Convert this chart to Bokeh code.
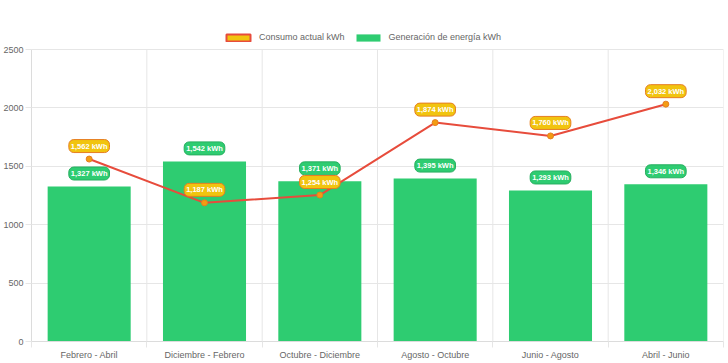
from bokeh.plotting import figure
from bokeh.models import ColumnDataSource, Legend, LegendItem, FixedTicker, Range1d
from bokeh.core.properties import value
from bokeh.embed import file_html
from bokeh.resources import INLINE

periods = ["Febrero - Abril", "Diciembre - Febrero", "Octubre - Diciembre",
           "Agosto - Octubre", "Junio - Agosto", "Abril - Junio"]
consumo = [1562, 1187, 1254, 1874, 1760, 2032]
generacion = [1327, 1542, 1371, 1395, 1293, 1346]
y_ticks = [0, 500, 1000, 1500, 2000, 2500]

FONT = "Liberation Sans"
GREEN = "#2ecc71"
RED = "#e74c3c"
YELLOW = "#f1c40f"
ORANGE = "#f39c12"
GRID = "#e6e6e6"
AXIS = "#dcdcdc"

# layout (pixels)
W, H = 728, 363
FRAME_TOP, FRAME_BOTTOM = 20, 341   # frame extends above 2500 to hold the legend
TICK_TOP = 49                       # pixel row of the top tick (2500)
LEGEND_BOTTOM = 42                  # pixel row of the legend's lower edge
y_max = y_ticks[-1] * (FRAME_BOTTOM - FRAME_TOP) / (FRAME_BOTTOM - TICK_TOP)

xs = [i + 0.5 for i in range(len(periods))]
bounds = list(range(len(periods) + 1))
src = ColumnDataSource(dict(
    x=xs, consumo=consumo, generacion=generacion,
    cl=[f"{v:,} kWh" for v in consumo],
    gl=[f"{v:,} kWh" for v in generacion],
))
grid_src = ColumnDataSource(dict(x=bounds, y0=[y_ticks[0]] * len(bounds),
                                 y1=[y_ticks[-1]] * len(bounds)))

p = figure(width=W, height=H, output_backend="svg", toolbar_location=None,
           x_range=Range1d(0, len(periods)), y_range=Range1d(y_ticks[0], y_max),
           min_border_left=31, min_border_right=5, min_border_top=FRAME_TOP,
           min_border_bottom=H - FRAME_BOTTOM)
p.outline_line_color = None
p.background_fill_color = "white"
p.border_fill_color = "white"
p.xgrid.visible = False

# vertical category-boundary grid lines (only up to the top tick)
p.segment(x0="x", y0="y0", x1="x", y1="y1", source=grid_src, line_color=GRID, line_width=1)

bars = p.vbar(x="x", top="generacion", width=0.72, source=src,
              fill_color=GREEN, line_color=None)
line = p.line(x="x", y="consumo", source=src, line_color=RED, line_width=2)
pts = p.scatter(x="x", y="consumo", source=src, size=6,
                fill_color=ORANGE, line_color="#e67e22", line_width=1)

# swatch-only renderer for the legend (box style); NaN data draws nothing
nan = float("nan")
dummy_src = ColumnDataSource(dict(x=[nan], top=[nan]))
dummy = p.vbar(x="x", top="top", width=0.5, source=dummy_src,
               fill_color=YELLOW, line_color=RED, line_width=2)

p.text(x="x", y="generacion", text="gl", source=src, y_offset=-13,
       text_align="center", text_baseline="middle",
       text_font=value(FONT), text_font_style="bold", text_font_size="7.5px",
       text_color="white", background_fill_color=GREEN, border_line_color="#27ae60",
       border_line_width=1, padding=2, border_radius=5)
p.text(x="x", y="consumo", text="cl", source=src, y_offset=-13,
       text_align="center", text_baseline="middle",
       text_font=value(FONT), text_font_style="bold", text_font_size="7.5px",
       text_color="white", background_fill_color=YELLOW, border_line_color="#e67e22",
       border_line_width=1, padding=2, border_radius=5)

# axes
p.xaxis.ticker = FixedTicker(ticks=xs, minor_ticks=bounds)
p.xaxis.major_label_overrides = {x: lab for x, lab in zip(xs, periods)}
p.xaxis.major_tick_out = 0
p.xaxis.major_tick_in = 0
p.xaxis.minor_tick_out = 6
p.xaxis.minor_tick_in = 0
p.xaxis.minor_tick_line_color = GRID
p.xaxis.axis_line_color = AXIS
p.xaxis.major_label_standoff = 2
p.yaxis.ticker = FixedTicker(ticks=y_ticks)
p.yaxis.bounds = (y_ticks[0], y_ticks[-1])
p.yaxis.major_tick_out = 6
p.yaxis.major_tick_in = 0
p.yaxis.major_tick_line_color = GRID
p.yaxis.minor_tick_line_color = None
p.yaxis.axis_line_color = AXIS
p.yaxis.major_label_standoff = 2
for ax in (p.xaxis, p.yaxis):
    ax.major_label_text_font = FONT
    ax.major_label_text_font_size = "9px"
    ax.major_label_text_color = "#666666"

p.ygrid.ticker = FixedTicker(ticks=y_ticks)
p.ygrid.grid_line_color = GRID

legend = Legend(items=[LegendItem(label="Consumo actual kWh", renderers=[dummy]),
                       LegendItem(label="Generación de energía kWh", renderers=[bars])],
                orientation="horizontal",
                location=(192, FRAME_BOTTOM - LEGEND_BOTTOM),
                glyph_width=30, glyph_height=9, label_height=9,
                label_standoff=6, spacing=8, padding=1, margin=0,
                label_text_font=FONT, label_text_font_size="9px",
                label_text_color="#666666", border_line_color=None,
                background_fill_alpha=0)
p.add_layout(legend, "center")

open("out.html", "w").write(file_html(p, INLINE))
